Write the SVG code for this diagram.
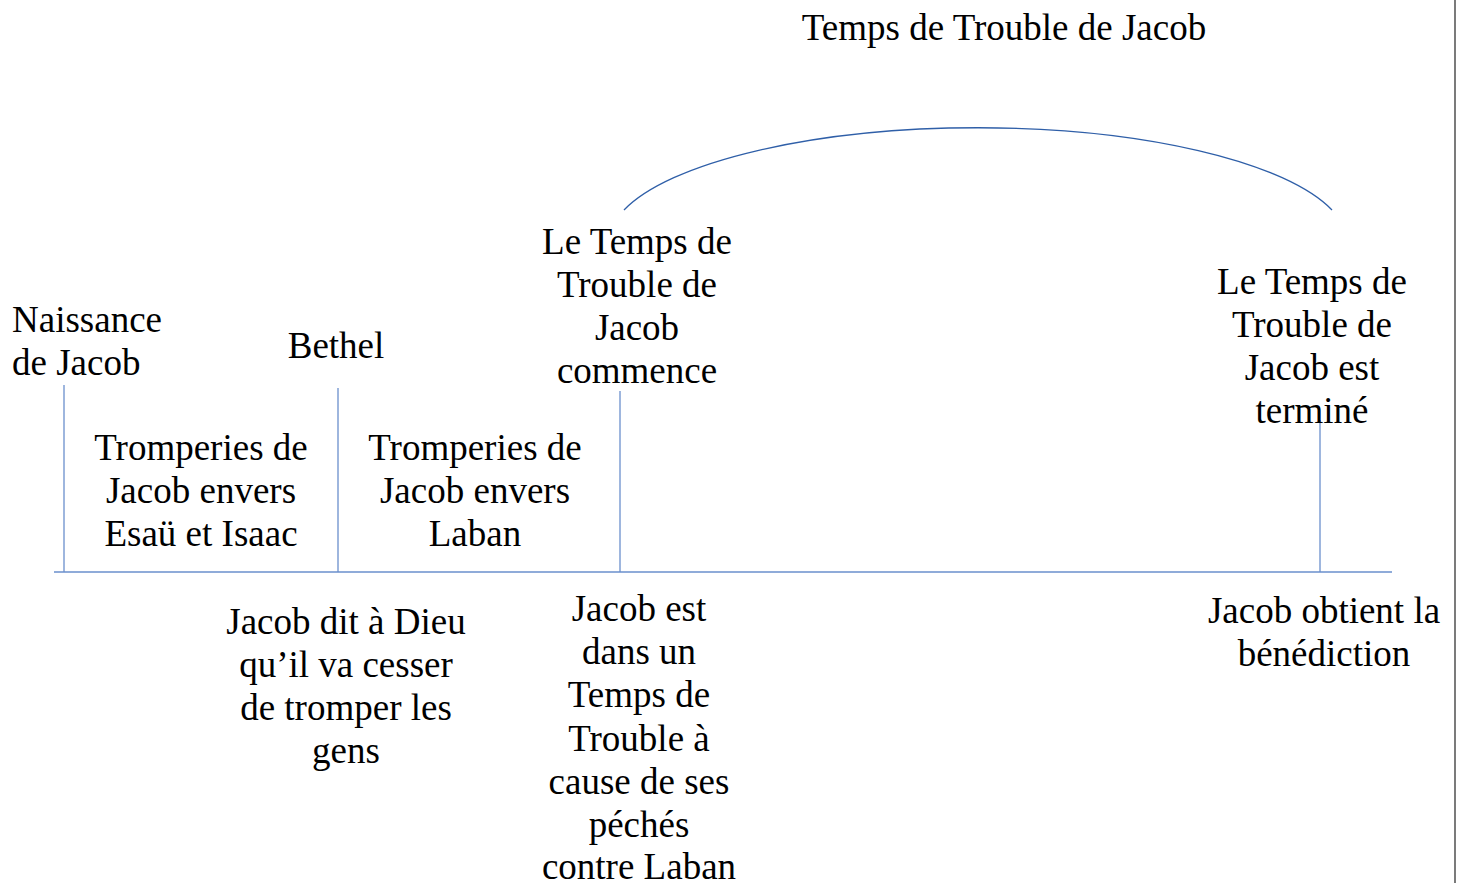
<svg xmlns="http://www.w3.org/2000/svg" width="1461" height="883" viewBox="0 0 1461 883">
<style>
text{font-family:"Liberation Serif","Times New Roman",serif;font-size:37px;fill:#000}
.c{text-anchor:middle}
.ln{stroke:#6a8fcc;stroke-width:1.3;fill:none}
.arc{stroke:#2f5fa8;stroke-width:1.3;fill:none}
</style>
<rect width="1461" height="883" fill="#fff"/>
<line x1="1455" y1="0" x2="1455" y2="883" stroke="#222" stroke-width="1.2"/>
<g id="connectors">
<line class="ln" x1="54" y1="572" x2="1392" y2="572"/>
<line class="ln" x1="64" y1="385" x2="64" y2="572"/>
<line class="ln" x1="338" y1="388" x2="338" y2="572"/>
<line class="ln" x1="620" y1="391" x2="620" y2="572"/>
<line class="ln" x1="1320" y1="420" x2="1320" y2="572"/>
<path class="arc" d="M624,210 A370,116 0 0 1 1332,210"/>
</g>
<g id="title"><text class="c" x="1004" y="40">Temps de Trouble de Jacob</text></g>
<g id="naissance"><text x="12" y="332">Naissance</text><text x="12" y="375">de Jacob</text></g>
<g id="bethel"><text class="c" x="336" y="358">Bethel</text></g>
<g id="tromperies1"><text class="c" x="201" y="460">Tromperies de</text><text class="c" x="201" y="503">Jacob envers</text><text class="c" x="201" y="546">Esaü et Isaac</text></g>
<g id="tromperies2"><text class="c" x="475" y="460">Tromperies de</text><text class="c" x="475" y="503">Jacob envers</text><text class="c" x="475" y="546">Laban</text></g>
<g id="commence"><text class="c" x="637" y="254">Le Temps de</text><text class="c" x="637" y="297">Trouble de</text><text class="c" x="637" y="340">Jacob</text><text class="c" x="637" y="383">commence</text></g>
<g id="termine"><text class="c" x="1312" y="294">Le Temps de</text><text class="c" x="1312" y="337">Trouble de</text><text class="c" x="1312" y="380">Jacob est</text><text class="c" x="1312" y="423">terminé</text></g>
<g id="dieu"><text class="c" x="346" y="634">Jacob dit à Dieu</text><text class="c" x="346" y="677">qu’il va cesser</text><text class="c" x="346" y="720">de tromper les</text><text class="c" x="346" y="763">gens</text></g>
<g id="trouble"><text class="c" x="639" y="621">Jacob est</text><text class="c" x="639" y="664">dans un</text><text class="c" x="639" y="707">Temps de</text><text class="c" x="639" y="751">Trouble à</text><text class="c" x="639" y="794">cause de ses</text><text class="c" x="639" y="837">péchés</text><text class="c" x="639" y="879">contre Laban</text></g>
<g id="benediction"><text class="c" x="1324" y="623">Jacob obtient la</text><text class="c" x="1324" y="666">bénédiction</text></g>
</svg>
